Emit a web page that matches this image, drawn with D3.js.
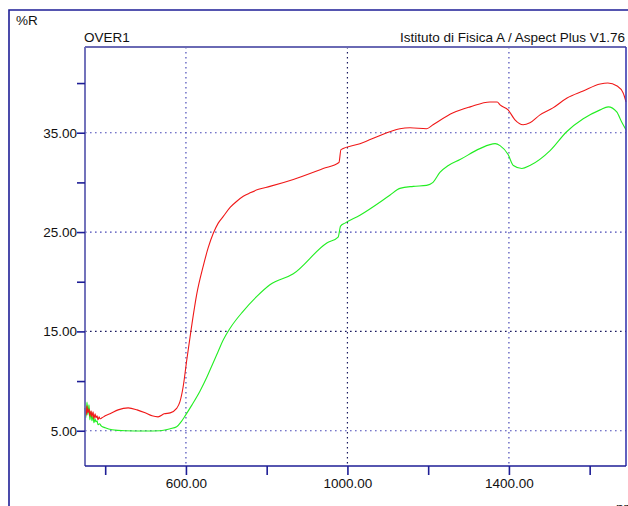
<!DOCTYPE html>
<html><head><meta charset="utf-8">
<script src="https://cdn.jsdelivr.net/npm/d3@7"></script>
<style>
html,body{margin:0;padding:0;background:#fff;}
svg{display:block;font-family:"Liberation Sans",Arial,sans-serif;}
</style></head>
<body><svg id="c" width="628" height="506"></svg>
<script>
const yUnit = "%R";
const xUnit = "nm";
const sampleName = "OVER1";
const instrument = "Istituto di Fisica A / Aspect Plus V1.76";
const xTickLabels = [600, 1000, 1400];
const xMinorTicks = [400, 800, 1200, 1600];
const yTickLabels = [5, 15, 25, 35];
const yMinorTicks = [10, 20, 30, 40];

const redNm = [350,353,355,357,360,362,365,367,370,372,375,377,380,382,385,387,392,400,412,432,457,479,499,516,531,546,561,577,585,593,602,614,627,643,655,668,680,693,710,726,742,759,780,808,866,940,979,984,1031,1105,1130,1155,1196,1212,1262,1304,1353,1371,1378,1398,1415,1435,1452,1477,1509,1544,1584,1626,1645,1668,1683,1690];
const redR  = [7.3,6.6,7.5,6.8,7.2,6.5,7.0,6.4,6.9,6.2,6.7,6.3,6.5,6.1,6.4,6.2,6.3,6.5,6.7,7.1,7.3,7.1,6.8,6.5,6.4,6.7,6.8,7.25,7.9,9.4,12.1,15.5,18.8,21.6,23.4,24.9,25.9,26.6,27.5,28.1,28.6,28.95,29.3,29.6,30.3,31.4,32.0,33.3,33.9,35.1,35.4,35.5,35.4,35.8,37.0,37.6,38.1,38.1,37.8,37.3,36.3,35.8,36.0,36.8,37.5,38.5,39.2,39.9,40.0,39.7,39.0,38.1];

const greenNm = [350,352,355,357,360,362,365,367,370,372,375,377,380,382,386,390,400,417,449,499,536,548,561,577,588,598,615,635,652,667,679,692,709,741,775,808,866,949,977,983,994,1031,1105,1130,1163,1196,1212,1229,1250,1279,1328,1366,1378,1398,1411,1432,1452,1502,1543,1584,1626,1646,1667,1679,1690];
const greenR  = [7.3,6.3,7.9,6.6,7.6,6.1,6.9,6.0,6.5,5.8,6.2,5.9,6.0,5.6,5.7,5.5,5.3,5.1,5.0,4.97,5.0,5.07,5.2,5.4,5.9,6.5,7.6,9.0,10.4,11.8,12.9,14.1,15.3,17.0,18.5,19.7,20.8,23.9,24.5,25.6,25.9,26.7,28.7,29.4,29.6,29.7,30.0,31.0,31.7,32.3,33.4,33.9,33.7,32.8,31.7,31.4,31.7,33.2,35.1,36.4,37.3,37.6,37.1,36.1,35.3];

const svg = d3.select("#c");
const L = 85, T = 47, R = 626, B = 466;
const x = d3.scaleLinear().domain([350, 1690]).range([L, R]);
const y = d3.scaleLinear().domain([1.45, 43.63]).range([B, T]);
const navy = "#1e1e96";

// outer frame
svg.append("path").attr("d", `M9,520 L9,10 L640,10`).attr("fill","none")
  .attr("stroke", navy).attr("stroke-width", 1.6);

// grid
const grid = svg.append("g").attr("stroke-dasharray","1.6,3.4").attr("stroke-width",1.2);
grid.selectAll(".gx").data(xTickLabels).join("line")
  .attr("x1", d=>x(d)).attr("x2", d=>x(d)).attr("y1", T).attr("y2", B)
  .attr("stroke", d=> d===1000 ? "#1a1a60" : "#4a4ab8");
grid.selectAll(".gy").data(yTickLabels).join("line")
  .attr("y1", d=>y(d)).attr("y2", d=>y(d)).attr("x1", L).attr("x2", R)
  .attr("stroke", d=> d===15 ? "#1a1a60" : "#4a4ab8");

// curves
const line = (xs, ys) => d3.line().x((d,i)=>x(xs[i])).y((d,i)=>y(ys[i])).curve(d3.curveMonotoneX)(xs);
svg.append("path").attr("d", line(greenNm, greenR)).attr("fill","none").attr("stroke","#22ee22").attr("stroke-width",1.1);
svg.append("path").attr("d", line(redNm, redR)).attr("fill","none").attr("stroke","#f01818").attr("stroke-width",1.1);

// frame lines
svg.append("line").attr("x1",L).attr("x2",L).attr("y1",T).attr("y2",B).attr("stroke","#6464b4").attr("stroke-width",1.8);
svg.append("line").attr("x1",L).attr("x2",R).attr("y1",T).attr("y2",T).attr("stroke","#6a6ab4").attr("stroke-width",1.8);
svg.append("line").attr("x1",R).attr("x2",R).attr("y1",T).attr("y2",B).attr("stroke","#3a3ab0").attr("stroke-width",1.6);
svg.append("line").attr("x1",L).attr("x2",R).attr("y1",B).attr("y2",B).attr("stroke",navy).attr("stroke-width",1.6);

// axes
const xAxis = d3.axisBottom(x).tickValues(xTickLabels.concat(xMinorTicks)).tickSize(9).tickSizeOuter(0)
  .tickFormat(d => xTickLabels.includes(d) ? d.toFixed(2) : "");
const gx = svg.append("g").attr("transform",`translate(0,${B})`).call(xAxis);
gx.select(".domain").remove();
gx.selectAll(".tick line").attr("stroke", navy).attr("stroke-width",1.6);
gx.selectAll(".tick text").attr("fill","#111").attr("font-size","13.5px").attr("y",12).attr("dy","0.71em")
  .attr("font-family","'Liberation Sans',Arial,sans-serif");

const yAxis = d3.axisLeft(y).tickValues(yTickLabels.concat(yMinorTicks)).tickSize(8).tickSizeOuter(0)
  .tickPadding(0).tickFormat(d => yTickLabels.includes(d) ? d.toFixed(2) : "");
const gy = svg.append("g").attr("transform",`translate(${L},0)`).call(yAxis);
gy.select(".domain").remove();
gy.selectAll(".tick line").attr("stroke", navy).attr("stroke-width",1.6);
gy.selectAll(".tick text").attr("fill","#111").attr("font-size","13.5px")
  .attr("font-family","'Liberation Sans',Arial,sans-serif");

// texts
const t = svg.append("g").attr("fill","#111").attr("font-size","13.5px");
t.append("text").attr("x",16).attr("y",25).text(yUnit);
t.append("text").attr("x",84).attr("y",42).text(sampleName);
t.append("text").attr("x",625).attr("y",42).attr("text-anchor","end").text(instrument);
t.append("text").attr("x",616).attr("y",512).text(xUnit);
</script></body></html>
